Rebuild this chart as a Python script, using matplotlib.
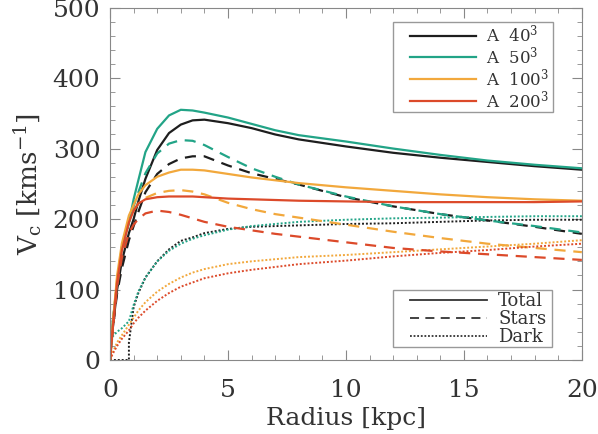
import numpy as np
import matplotlib
matplotlib.use("Agg")
import matplotlib.pyplot as plt
from matplotlib.lines import Line2D
from matplotlib.patches import Rectangle
from matplotlib.ticker import MultipleLocator

plt.rcParams['font.family'] = ['DejaVu Serif']
plt.rcParams['mathtext.fontset'] = 'dejavuserif'

# radius grid (kpc)
radius = [0, 0.1, 0.3, 0.5, 0.8, 1.0, 1.2, 1.5, 2.0, 2.5, 3.0, 3.5, 4.0,
          5, 6, 7, 8, 10, 12, 14, 16, 18, 20]

# total circular velocity (km/s)
tot_40 = [0, 40, 100, 140, 180, 200, 225, 257, 298, 322, 334, 340, 341,
          336, 329, 320, 313, 303, 294, 287, 281, 275, 270]
tot_50 = [0, 50, 110, 160, 195, 228, 255, 295, 328, 347, 355, 354, 351,
          344, 335, 326, 319, 310, 300, 291, 283, 277, 272]
tot_100 = [0, 45, 120, 165, 205, 220, 235, 248, 260, 266, 270, 270, 269,
           264, 259, 255, 251, 245, 240, 235, 231, 228, 226]
tot_200 = [0, 40, 110, 155, 195, 212, 222, 228, 231, 232, 232, 232, 231,
           229, 228, 227, 226, 225, 224, 224, 224, 224, 225]

# stellar contribution
star_40 = [0, 40, 95, 130, 170, 190, 210, 238, 264, 278, 286, 289, 289,
           276, 265, 257, 249, 231, 218, 207, 198, 189, 179]
star_50 = [0, 50, 105, 150, 195, 218, 238, 265, 293, 307, 312, 311, 305,
           288, 272, 260, 249, 232, 218, 207, 198, 190, 181]
star_100 = [0, 45, 115, 160, 200, 212, 222, 230, 237, 240, 241, 239, 235,
            223, 214, 207, 202, 192, 182, 173, 165, 159, 153]
star_200 = [0, 38, 105, 145, 180, 192, 200, 208, 212, 210, 206, 201, 196,
            189, 184, 179, 175, 167, 159, 154, 150, 146, 142]

# dark matter contribution
radius_dm40 = [0, 0.5, 0.8, 0.8, 1.0, 1.2, 1.5, 2.0, 2.5, 3.0, 3.5, 4.0,
               5, 6, 7, 8, 10, 12, 14, 16, 18, 20]
dark_40 = [0, 0, 0, 25, 75, 95, 117, 140, 157, 169, 174, 180,
           186, 189, 190, 191, 193, 194, 196, 198, 199, 199]
dark_50 = [0, 33, 40, 45, 55, 78, 97, 117, 140, 155, 165, 172, 177,
           185, 190, 193, 196, 199, 201, 202, 203, 204, 204]
dark_100 = [0, 10, 25, 35, 50, 60, 70, 82, 97, 108, 117, 124, 129,
            136, 140, 143, 146, 149, 153, 157, 161, 165, 170]
dark_200 = [0, 8, 20, 30, 42, 52, 60, 70, 84, 95, 104, 110, 116,
            123, 128, 132, 136, 141, 147, 152, 156, 161, 165]

labels = ['A  40$^3$', 'A  50$^3$', 'A  100$^3$', 'A  200$^3$']
colors = ['#1e1e1e', '#22a487', '#f2a83c', '#dc4a2a']

fig = plt.figure(figsize=(5.98, 4.34), dpi=100)
ax = fig.add_axes([0.184, 0.1705, 0.789, 0.812])

totals = [tot_40, tot_50, tot_100, tot_200]
stars = [star_40, star_50, star_100, star_200]
darks = [dark_40, dark_50, dark_100, dark_200]

for i in range(4):
    ax.plot(radius, totals[i], color=colors[i], lw=1.6)
    ax.plot(radius, stars[i], color=colors[i], lw=1.6, dashes=(5, 3.5))
    r_dm = radius_dm40 if i == 0 else radius
    ax.plot(r_dm, darks[i], color=colors[i], lw=1.4, dashes=(1, 1))

ax.set_xlim(0, 20)
ax.set_ylim(0, 500)
ax.xaxis.set_major_locator(MultipleLocator(5))
ax.xaxis.set_minor_locator(MultipleLocator(1))
ax.yaxis.set_major_locator(MultipleLocator(100))
ax.yaxis.set_minor_locator(MultipleLocator(20))
ax.tick_params(which='both', direction='in', top=True, right=True,
               color='#888888', labelsize=18, labelcolor='#333333')
ax.tick_params(which='major', length=7)
ax.tick_params(which='minor', length=3.5)
ax.tick_params(axis='x', pad=14)
ax.tick_params(axis='y', pad=7)
for s in ax.spines.values():
    s.set_color('#888888')

ax.set_xlabel('Radius [kpc]', fontsize=18, color='#333333', labelpad=3.5)
ax.set_ylabel('V$_\\mathrm{c}$ [kms$^{-1}$]', fontsize=19, color='#333333',
              labelpad=6)


def framed_legend(handles, names, anchor, size, pads):
    # legend without its own frame; a plain box is drawn round it with
    # IDL-like padding (left, right, top, bottom in pixels)
    leg = ax.legend(handles, names, loc='upper left', bbox_to_anchor=anchor,
                    fontsize=size, frameon=False, handlelength=size * 0.33,
                    handletextpad=0.6, labelspacing=0.0, borderpad=0,
                    borderaxespad=0)
    for t in leg.get_texts():
        t.set_color('#333333')
    fig.canvas.draw()
    bb = leg.get_window_extent()
    inv = ax.transAxes.inverted()
    x0, y0 = inv.transform((bb.x0 - pads[0], bb.y0 - pads[3]))
    x1, y1 = inv.transform((bb.x1 + pads[1], bb.y1 + pads[2]))
    ax.add_patch(Rectangle((x0, y0), x1 - x0, y1 - y0, transform=ax.transAxes,
                           fill=False, edgecolor='#999999', lw=1.0, zorder=5))
    return leg


h1 = [Line2D([], [], color=c, lw=1.6) for c in colors]
leg1 = framed_legend(h1, labels, (0.6356, 0.955), 12, (17, 4, 1, 1))
ax.add_artist(leg1)

h2 = [Line2D([], [], color='#333333', lw=1.3),
      Line2D([], [], color='#333333', lw=1.3, dashes=(5, 3.5)),
      Line2D([], [], color='#333333', lw=1.3, dashes=(1, 1))]
leg2 = framed_legend(h2, ['Total', 'Stars', 'Dark'], (0.6356, 0.193), 13,
                     (17, 6, 2, 1))

fig.savefig('out.png', dpi=100)
